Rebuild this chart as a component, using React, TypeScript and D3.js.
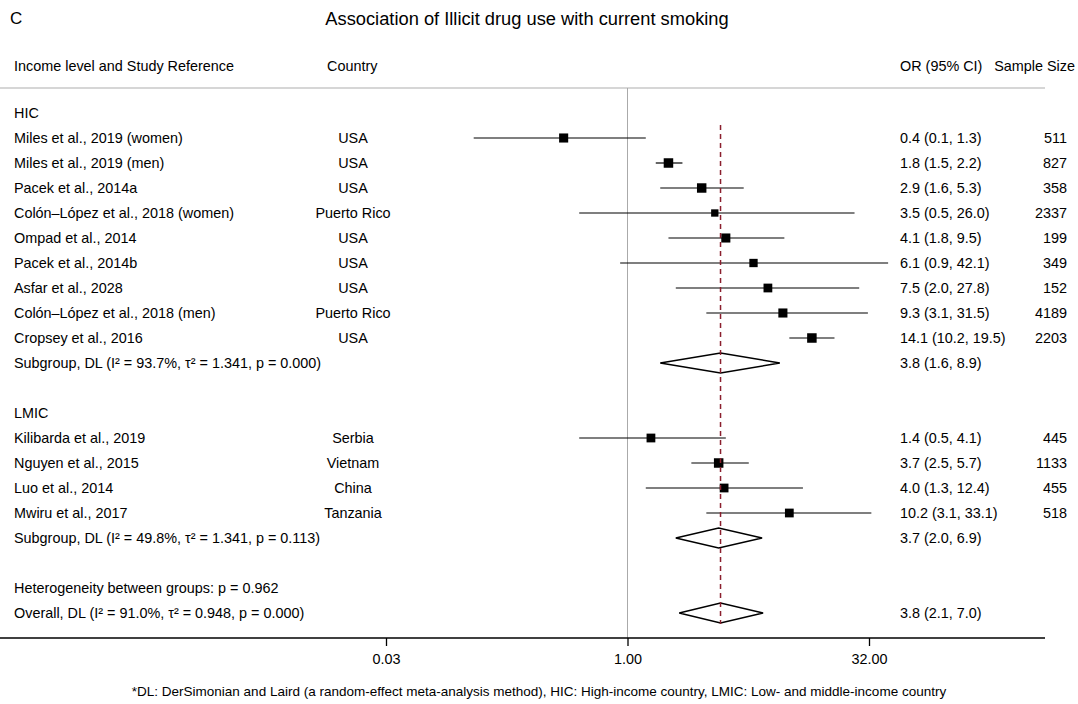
import React, { useEffect, useRef } from 'react';
import * as d3 from 'd3';

// study rows
const hicStudies = [
  'Miles et al., 2019 (women)',
  'Miles et al., 2019 (men)',
  'Pacek et al., 2014a',
  'Colón–López et al., 2018 (women)',
  'Ompad et al., 2014',
  'Pacek et al., 2014b',
  'Asfar et al., 2028',
  'Colón–López et al., 2018 (men)',
  'Cropsey et al., 2016',
];
const hicCountries = ['USA', 'USA', 'USA', 'Puerto Rico', 'USA', 'USA', 'USA', 'Puerto Rico', 'USA'];
const hicOR = [0.4, 1.8, 2.9, 3.5, 4.1, 6.1, 7.5, 9.3, 14.1];
const hicLo = [0.11, 1.5, 1.6, 0.5, 1.8, 0.9, 2.0, 3.1, 10.2];
const hicHi = [1.3, 2.2, 5.3, 26.0, 9.5, 42.1, 27.8, 31.5, 19.5];
const hicN = [511, 827, 358, 2337, 199, 349, 152, 4189, 2203];
const hicWeight = [8.6, 9.4, 9.3, 5.6, 8.6, 7.2, 8.0, 8.6, 9.4];

const lmicStudies = ['Kilibarda et al., 2019', 'Nguyen et al., 2015', 'Luo et al., 2014', 'Mwiru et al., 2017'];
const lmicCountries = ['Serbia', 'Vietnam', 'China', 'Tanzania'];
const lmicOR = [1.4, 3.7, 4.0, 10.2];
const lmicLo = [0.5, 2.5, 1.3, 3.1];
const lmicHi = [4.1, 5.7, 12.4, 33.1];
const lmicN = [445, 1133, 455, 518];
const lmicWeight = [8.0, 9.4, 8.0, 8.0];

// pooled estimates
const hicPooled = { or: 3.8, lo: 1.6, hi: 8.9, label: 'Subgroup, DL (I² = 93.7%, τ² = 1.341, p = 0.000)' };
const lmicPooled = { or: 3.7, lo: 2.0, hi: 6.9, label: 'Subgroup, DL (I² = 49.8%, τ² = 1.341, p = 0.113)' };
const overall = { or: 3.8, lo: 2.1, hi: 7.0, label: 'Overall, DL (I² = 91.0%, τ² = 0.948, p = 0.000)' };
const heterogeneity = 'Heterogeneity between groups: p = 0.962';

const tickValues = [1 / 32, 1, 32];
const tickLabels = ['0.03', '1.00', '32.00'];

const W = 1078;
const H = 704;
const FONT = '"Liberation Sans", Arial, Helvetica, sans-serif';
const FS = 14.4;

const fmt = (v: number) => v.toFixed(1);

export default function App() {
  const ref = useRef<SVGSVGElement>(null);

  useEffect(() => {
    const svg = d3.select(ref.current);
    svg.selectAll('*').remove();

    const x = d3.scaleLog().domain([1 / 32, 32]).range([386, 869]);
    const row = d3.scaleLinear().domain([0, 21]).range([113, 638]);
    const box = d3.scaleSqrt().domain([0, 10]).range([0, 9.8]);

    const g = svg.append('g').attr('font-family', FONT).attr('fill', '#000');

    // title + panel letter
    g.append('text').attr('x', 10).attr('y', 24).attr('font-size', 17).text('C');
    g.append('text')
      .attr('x', 527)
      .attr('y', 25)
      .attr('text-anchor', 'middle')
      .attr('font-size', 18.3)
      .text('Association of Illicit drug use with current smoking');

    // headers
    const hdr = g.append('g').attr('font-size', FS);
    hdr.append('text').attr('x', 14).attr('y', 71).text('Income level and Study Reference');
    hdr.append('text').attr('x', 327).attr('y', 71).text('Country');
    hdr.append('text').attr('x', 900).attr('y', 71).text('OR (95% CI)');
    hdr.append('text').attr('x', 1075).attr('y', 71).attr('text-anchor', 'end').text('Sample Size');

    g.append('line').attr('x1', 0).attr('x2', 1045).attr('y1', 88).attr('y2', 88)
      .attr('stroke', '#c8c8c8').attr('stroke-width', 1.5);

    // null line
    g.append('line').attr('x1', x(1)).attr('x2', x(1)).attr('y1', 88).attr('y2', row(21))
      .attr('stroke', '#aaaaaa').attr('stroke-width', 1);

    const body = g.append('g').attr('font-size', FS);
    const label = (i: number, text: string) =>
      body.append('text').attr('x', 14).attr('y', row(i)).attr('dy', '0.36em').text(text);

    const drawStudies = (start: number, names: string[], countries: string[], or: number[], lo: number[], hi: number[], n: number[], w: number[]) => {
      names.forEach((name, k) => {
        const i = start + k;
        const y = row(i);
        label(i, name);
        body.append('text').attr('x', 353).attr('y', y).attr('dy', '0.36em').attr('text-anchor', 'middle').text(countries[k]);
        body.append('text').attr('x', 900).attr('y', y).attr('dy', '0.36em')
          .text(`${fmt(or[k])} (${fmt(lo[k])}, ${fmt(hi[k])})`);
        body.append('text').attr('x', 1067).attr('y', y).attr('dy', '0.36em').attr('text-anchor', 'end').text(n[k]);
        g.append('line').attr('x1', x(lo[k])).attr('x2', x(hi[k])).attr('y1', y).attr('y2', y)
          .attr('stroke', '#000').attr('stroke-width', 1.2);
        const s = box(w[k]);
        g.append('rect').attr('x', x(or[k]) - s / 2).attr('y', y - s / 2).attr('width', s).attr('height', s)
          .attr('fill', '#000');
      });
    };

    const diamond = (i: number, p: { or: number; lo: number; hi: number; label: string }) => {
      const y = row(i);
      label(i, p.label);
      body.append('text').attr('x', 900).attr('y', y).attr('dy', '0.36em')
        .text(`${fmt(p.or)} (${fmt(p.lo)}, ${fmt(p.hi)})`);
      const pts: [number, number][] = [
        [x(p.lo), y], [x(p.or), y - 10], [x(p.hi), y], [x(p.or), y + 10],
      ];
      g.append('path').attr('d', d3.line()(pts) + 'Z')
        .attr('fill', '#fff').attr('stroke', '#000').attr('stroke-width', 1.4);
    };

    label(0, 'HIC');
    drawStudies(1, hicStudies, hicCountries, hicOR, hicLo, hicHi, hicN, hicWeight);
    diamond(10, hicPooled);
    label(12, 'LMIC');
    drawStudies(13, lmicStudies, lmicCountries, lmicOR, lmicLo, lmicHi, lmicN, lmicWeight);
    diamond(17, lmicPooled);
    label(19, heterogeneity);
    diamond(20, overall);

    // overall effect line, on top of the marks
    g.append('line').attr('x1', x(overall.or)).attr('x2', x(overall.or))
      .attr('y1', row(0) + 12).attr('y2', row(20) + 11)
      .attr('stroke', '#8b1f2e').attr('stroke-width', 1.5).attr('stroke-dasharray', '5,4');

    // x axis
    const axisY = row(21);
    g.append('line').attr('x1', 0).attr('x2', 1045).attr('y1', axisY).attr('y2', axisY)
      .attr('stroke', '#000').attr('stroke-width', 1.5);
    const axis = d3.axisBottom(x).tickValues(tickValues)
      .tickFormat((_d, i) => tickLabels[i]).tickSize(8).tickPadding(8);
    const ax = g.append('g').attr('transform', `translate(0,${axisY})`).call(axis);
    ax.select('.domain').remove();
    ax.selectAll('line').attr('stroke', '#000').attr('stroke-width', 1.3);
    ax.selectAll('text').attr('font-family', FONT).attr('font-size', FS).attr('fill', '#000');

    g.append('text').attr('x', 539).attr('y', 696).attr('text-anchor', 'middle').attr('font-size', 13.5)
      .text('*DL: DerSimonian and Laird (a random-effect meta-analysis method), HIC: High-income country, LMIC: Low- and middle-income country');
  }, []);

  return (
    <svg ref={ref} width={W} height={H} style={{ position: 'absolute', left: 0, top: 0, background: '#fff' }} />
  );
}
